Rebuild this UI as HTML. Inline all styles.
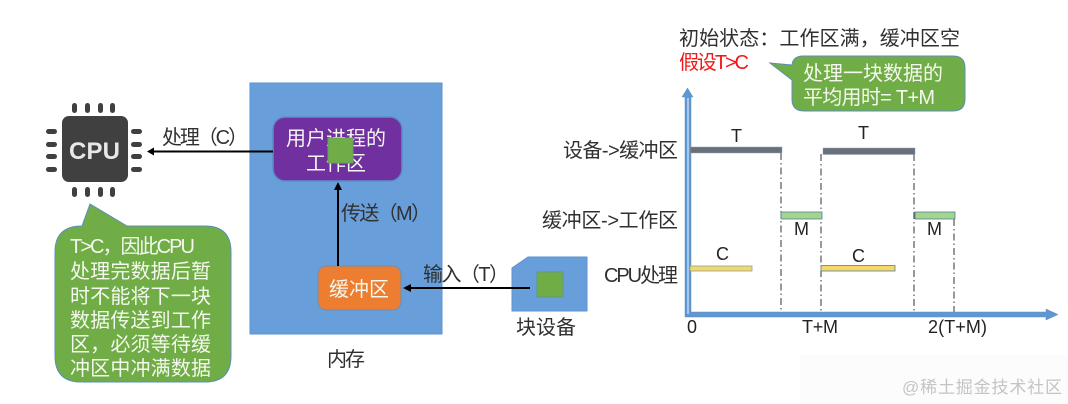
<!DOCTYPE html>
<html><head><meta charset="utf-8">
<style>
html,body{margin:0;padding:0;background:#fff}
svg{display:block;filter:blur(0.35px)}
text{font-family:"Liberation Sans","Noto Sans CJK SC",sans-serif;font-size:20px;fill:#303030}
.w{fill:#f4f8ee}
.c{fill:#222;font-size:18px}
</style></head><body>
<svg width="1068" height="404" viewBox="0 0 1068 404" xmlns="http://www.w3.org/2000/svg">
<rect x="800" y="355" width="268" height="49" fill="#fcfcfc"/>
<!-- CPU -->
<rect x="62" y="116" width="66" height="66" rx="7" fill="#404040"/>
<g fill="#404040">
<rect x="72" y="103" width="5" height="10" rx="2.5"/><rect x="85" y="103" width="5" height="10" rx="2.5"/><rect x="98" y="103" width="5" height="10" rx="2.5"/><rect x="110" y="103" width="5" height="10" rx="2.5"/>
<rect x="72" y="187" width="5" height="10" rx="2.5"/><rect x="85" y="187" width="5" height="10" rx="2.5"/><rect x="98" y="187" width="5" height="10" rx="2.5"/><rect x="110" y="187" width="5" height="10" rx="2.5"/>
<rect x="46" y="129" width="11" height="5" rx="2.5"/><rect x="46" y="142" width="11" height="5" rx="2.5"/><rect x="46" y="154" width="11" height="5" rx="2.5"/><rect x="46" y="167" width="11" height="5" rx="2.5"/>
<rect x="131" y="129" width="11" height="5" rx="2.5"/><rect x="131" y="142" width="11" height="5" rx="2.5"/><rect x="131" y="154" width="11" height="5" rx="2.5"/><rect x="131" y="167" width="11" height="5" rx="2.5"/>
</g>
<text x="69" y="159" style="font-size:24px;font-weight:bold;fill:#e8e8e8" textLength="51">CPU</text>
<!-- left callout -->
<path d="M82 226 L90 204 L127 226 L205 226 Q231 226 231 252 L231 356 Q231 382 205 382 L81 382 Q55 382 55 356 L55 252 Q55 226 82 226 Z" fill="#70ad47" stroke="#5b8fb9" stroke-width="1"/>
<g class="w">
<text class="w" x="70" y="253" textLength="125">T&gt;C，因此CPU</text>
<text class="w" x="70" y="278" textLength="141">处理完数据后暂</text>
<text class="w" x="70" y="303" textLength="141">时不能将下一块</text>
<text class="w" x="70" y="327" textLength="141">数据传送到工作</text>
<text class="w" x="70" y="351" textLength="141">区，必须等待缓</text>
<text class="w" x="70" y="375" textLength="141">冲区中冲满数据</text>
</g>
<!-- memory -->
<rect x="250" y="83" width="192" height="251" fill="#689fdb" stroke="#5b93cf" stroke-width="1"/>
<rect x="273" y="117" width="129" height="64" rx="12" fill="#7030a0" stroke="#5b8fc4" stroke-width="1.5"/>
<text class="w" x="286" y="145" textLength="100">用户进程的</text>
<text class="w" x="306" y="170" textLength="60">工作区</text>
<rect x="328" y="138" width="25" height="25" fill="#70ad47" stroke="#64a060" stroke-width="1"/>
<rect x="318" y="266" width="83" height="44" rx="8" fill="#ed7d31" stroke="#6d8fb0" stroke-width="1"/>
<text class="w" x="329" y="296" textLength="60">缓冲区</text>
<!-- block device -->
<path d="M512 268 L528 257 L587 257 L587 311 L512 311 Z" fill="#689fdb" stroke="#5b93cf" stroke-width="1"/>
<rect x="537" y="272" width="26" height="25" fill="#70ad47" stroke="#5f9a78" stroke-width="1"/>
<!-- arrows -->
<g stroke="#000" stroke-width="2" fill="none">
<line x1="273" y1="151.500" x2="152" y2="151.500"/>
<line x1="338" y1="266" x2="338" y2="188"/>
<line x1="530" y1="288" x2="408" y2="288"/>
</g>
<path d="M147 151.500 L154 147.500 L154 155.500 Z"/>
<path d="M338 182 L334 190 L342 190 Z"/>
<path d="M403 288 L411 284 L411 292 Z"/>
<text x="162" y="144" textLength="86">处理（C）</text>
<text x="341" y="220" textLength="90">传送（M）</text>
<text x="423" y="281" textLength="86">输入（T）</text>
<text x="516" y="334" textLength="60">块设备</text>
<text x="327" y="366" textLength="38">内存</text>
<!-- right top -->
<text x="679" y="45" textLength="281">初始状态：工作区满，缓冲区空</text>
<text x="679" y="69" style="fill:#f01818" textLength="70">假设T&gt;C</text>
<path d="M803 56 L953 56 Q965 56 965 68 L965 99 Q965 111 953 111 L804 111 Q792 111 792 99 L792 80 L770 63 L792 65 Q793 56 803 56 Z" fill="#70ad47" stroke="#5b8fb9" stroke-width="1"/>
<text class="w" x="803" y="80" textLength="140">处理一块数据的</text>
<text class="w" x="803" y="104" textLength="132">平均用时= T+M</text>
<!-- dashes -->
<g stroke="#333" stroke-width="1" stroke-dasharray="7 3 1.500 3" fill="none">
<line x1="781" y1="153" x2="781" y2="313"/>
<line x1="821" y1="154" x2="821" y2="313"/>
<line x1="914" y1="154" x2="914" y2="313"/>
<line x1="954" y1="219" x2="954" y2="313"/>
</g>
<!-- axes -->
<path d="M685 317 L685 97 L682 97 L687.500 88 L693 97 L691 97 L691 312 L1046 312 L1046 309 L1058 314.500 L1046 320 L1046 317 Z" fill="#5f97d2" stroke="#5b8fc4" stroke-width="0.500"/>
<rect x="687" y="98" width="2" height="216" fill="#a9c8ea"/>
<!-- bars -->
<rect x="690" y="147" width="92" height="6" fill="#6b6f78" stroke="#8aa5c4" stroke-width="0.500"/>
<rect x="823" y="148" width="92" height="6.500" fill="#6b6f78" stroke="#8aa5c4" stroke-width="0.500"/>
<rect x="781" y="212" width="41" height="7" fill="#a5d58a" stroke="#4f7fa8" stroke-width="0.800"/>
<rect x="915" y="212" width="40" height="7" fill="#a5d58a" stroke="#4f7fa8" stroke-width="0.800"/>
<rect x="690" y="266" width="62" height="5" fill="#f5d76a" stroke="#8aa5a0" stroke-width="0.800"/>
<rect x="821" y="265.500" width="74" height="5.500" fill="#f5d76a" stroke="#4f7fa8" stroke-width="0.800"/>
<!-- labels -->
<text x="563" y="157" textLength="115">设备-&gt;缓冲区</text>
<text x="542" y="227" textLength="136">缓冲区-&gt;工作区</text>
<text x="604" y="282" textLength="74">CPU处理</text>
<text class="c" x="731" y="142">T</text>
<text class="c" x="858" y="139">T</text>
<text class="c" x="794" y="235">M</text>
<text class="c" x="927" y="235">M</text>
<text class="c" x="716" y="260">C</text>
<text class="c" x="852" y="262">C</text>
<text class="c" x="687" y="333">0</text>
<text class="c" x="802" y="333" textLength="36">T+M</text>
<text class="c" x="928" y="333" textLength="59">2(T+M)</text>
<text x="902" y="393" style="font-size:17px;fill:#c4c4c4" textLength="160">@稀土掘金技术社区</text>
</svg>
</body></html>
